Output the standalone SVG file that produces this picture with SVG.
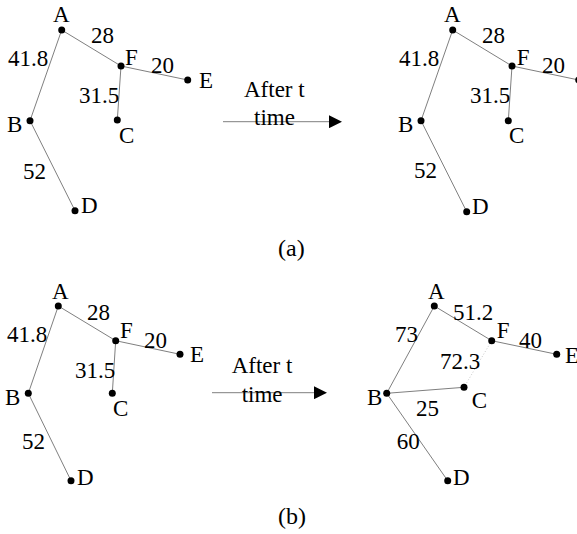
<svg xmlns="http://www.w3.org/2000/svg" width="577" height="534" viewBox="0 0 577 534">
<style>
text{font-family:"Liberation Serif","Times New Roman","DejaVu Serif",serif;font-size:23px;fill:#000}
.e{stroke:#7f7f7f;stroke-width:1;fill:none}
.d{stroke:#c8c8c8;stroke-width:1;stroke-dasharray:1 2;fill:none}
.n{fill:#000}
.cap{font-size:24px}
</style>
<defs>
<marker id="ah" markerUnits="userSpaceOnUse" markerWidth="13" markerHeight="13" refX="0" refY="6.5" orient="auto">
<path d="M0,0 L13,6.5 L0,13 Z" fill="#000"/>
</marker>
</defs>
<rect width="577" height="534" fill="#fff"/>

<g id="connectors">
<g id="edges-a-left">
<line class="e" x1="61.7" y1="30" x2="30" y2="120.7"/>
<line class="e" x1="61.7" y1="30" x2="121" y2="66"/>
<line class="e" x1="121" y1="66" x2="187.7" y2="80"/>
<line class="e" x1="121" y1="66" x2="117.3" y2="120"/>
<line class="e" x1="30" y1="120.7" x2="75" y2="210.7"/>
</g>
<g id="edges-a-right">
<line class="e" x1="452.7" y1="30" x2="421" y2="120.7"/>
<line class="e" x1="452.7" y1="30" x2="512" y2="66"/>
<line class="e" x1="512" y1="66" x2="578.7" y2="80"/>
<line class="e" x1="512" y1="66" x2="508.3" y2="120.7"/>
<line class="e" x1="421" y1="120.7" x2="466.7" y2="211.7"/>
</g>
<g id="edges-b-left">
<line class="e" x1="58.3" y1="306" x2="28.3" y2="393.3"/>
<line class="e" x1="58.3" y1="306" x2="115.7" y2="340.7"/>
<line class="e" x1="115.7" y1="340.7" x2="180" y2="354.3"/>
<line class="e" x1="115.7" y1="340.7" x2="112.3" y2="393.3"/>
<line class="e" x1="28.3" y1="393.3" x2="71" y2="480.7"/>
</g>
<g id="edges-b-right">
<line class="e" x1="434.3" y1="306" x2="386.7" y2="393.3"/>
<line class="e" x1="434.3" y1="306" x2="491.7" y2="340.7"/>
<line class="e" x1="491.7" y1="340.7" x2="556.7" y2="354.3"/>
<line class="d" x1="491.7" y1="340.7" x2="464" y2="387.3"/>
<line class="e" x1="386.7" y1="393.3" x2="464" y2="387.3"/>
<line class="e" x1="386.7" y1="393.3" x2="447.7" y2="480.7"/>
</g>
<g id="arrows">
<line class="e" x1="223" y1="121.7" x2="329" y2="121.7" marker-end="url(#ah)"/>
<line class="e" x1="212" y1="392.7" x2="314" y2="392.7" marker-end="url(#ah)"/>
</g>
</g>

<g id="weights" font-family="Liberation Serif, DejaVu Serif, serif">
<text x="91" y="43">28</text>
<text x="8" y="66">41.8</text>
<text x="151" y="73">20</text>
<text x="79" y="103">31.5</text>
<text x="23" y="179">52</text>

<text x="482" y="43">28</text>
<text x="399" y="66">41.8</text>
<text x="542" y="73">20</text>
<text x="470" y="103">31.5</text>
<text x="414" y="178">52</text>

<text x="87" y="320">28</text>
<text x="7" y="341.7">41.8</text>
<text x="144" y="348">20</text>
<text x="75" y="378">31.5</text>
<text x="22" y="449">52</text>

<text x="453" y="320">51.2</text>
<text x="395" y="341.7">73</text>
<text x="519" y="348">40</text>
<text x="440" y="369">72.3</text>
<text x="416" y="415.7">25</text>
<text x="396.7" y="449">60</text>
</g>

<g id="arrow-labels">
<text x="244" y="97">After t</text>
<text x="254" y="125">time</text>
<text x="231.7" y="373">After t</text>
<text x="241.7" y="401.7">time</text>
</g>

<g id="a1-A"><circle class="n" cx="61.7" cy="30" r="3.5"/><text x="53" y="22">A</text></g>
<g id="a1-F"><circle class="n" cx="121" cy="66" r="3.5"/><text x="125" y="65">F</text></g>
<g id="a1-E"><circle class="n" cx="187.7" cy="80" r="3.5"/><text x="199" y="88">E</text></g>
<g id="a1-C"><circle class="n" cx="117.3" cy="120" r="3.5"/><text x="119" y="143">C</text></g>
<g id="a1-B"><circle class="n" cx="30" cy="120.7" r="3.5"/><text x="7" y="132">B</text></g>
<g id="a1-D"><circle class="n" cx="75" cy="210.7" r="3.5"/><text x="81" y="213">D</text></g>

<g id="a2-A"><circle class="n" cx="452.7" cy="30" r="3.5"/><text x="444" y="22">A</text></g>
<g id="a2-F"><circle class="n" cx="512" cy="66" r="3.5"/><text x="516.7" y="65">F</text></g>
<g id="a2-E"><circle class="n" cx="578.7" cy="80" r="3.5"/></g>
<g id="a2-C"><circle class="n" cx="508.3" cy="120.7" r="3.5"/><text x="509" y="143">C</text></g>
<g id="a2-B"><circle class="n" cx="421" cy="120.7" r="3.5"/><text x="398" y="132">B</text></g>
<g id="a2-D"><circle class="n" cx="466.7" cy="211.7" r="3.5"/><text x="472" y="214">D</text></g>

<g id="b1-A"><circle class="n" cx="58.3" cy="306" r="3.5"/><text x="52" y="299">A</text></g>
<g id="b1-F"><circle class="n" cx="115.7" cy="340.7" r="3.5"/><text x="120" y="338">F</text></g>
<g id="b1-E"><circle class="n" cx="180" cy="354.3" r="3.5"/><text x="190" y="361.7">E</text></g>
<g id="b1-C"><circle class="n" cx="112.3" cy="393.3" r="3.5"/><text x="113" y="415.7">C</text></g>
<g id="b1-B"><circle class="n" cx="28.3" cy="393.3" r="3.5"/><text x="5" y="405">B</text></g>
<g id="b1-D"><circle class="n" cx="71" cy="480.7" r="3.5"/><text x="77" y="485">D</text></g>

<g id="b2-A"><circle class="n" cx="434.3" cy="306" r="3.5"/><text x="428" y="299">A</text></g>
<g id="b2-F"><circle class="n" cx="491.7" cy="340.7" r="3.5"/><text x="496.7" y="338">F</text></g>
<g id="b2-E"><circle class="n" cx="556.7" cy="354.3" r="3.5"/><text x="565" y="362.5">E</text></g>
<g id="b2-C"><circle class="n" cx="464" cy="387.3" r="3.5"/><text x="471.7" y="408">C</text></g>
<g id="b2-B"><circle class="n" cx="386.7" cy="393.3" r="3.5"/><text x="367" y="405">B</text></g>
<g id="b2-D"><circle class="n" cx="447.7" cy="480.7" r="3.5"/><text x="453" y="485">D</text></g>

<text class="cap" x="278" y="256">(a)</text>
<text class="cap" x="278" y="524">(b)</text>
</svg>
